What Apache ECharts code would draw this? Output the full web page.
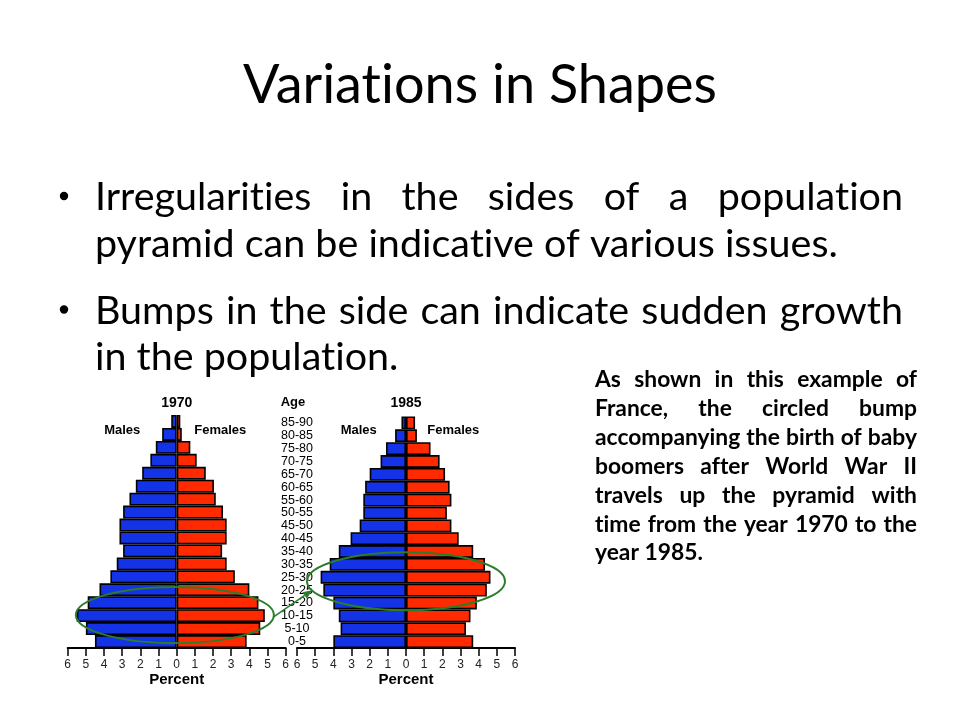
<!DOCTYPE html>
<html><head><meta charset="utf-8">
<script src="https://cdn.jsdelivr.net/npm/echarts@6/dist/echarts.min.js"></script>
<style>html,body{margin:0;padding:0;background:#fff}#c{width:960px;height:720px}</style>
</head><body><div id="c"></div>
<script>
// ---- data (bottom row first) ----
const ages = ['0-5','5-10','10-15','15-20','20-25','25-30','30-35','35-40','40-45','45-50','50-55','55-60','60-65','65-70','70-75','75-80','80-85','85-90'];
const male1970   = [4.5, 5.0, 5.5, 4.9, 4.25, 3.65, 3.3, 2.95, 3.15, 3.15, 2.95, 2.6, 2.25, 1.9, 1.45, 1.15, 0.8, 0.3];
const female1970 = [3.85, 4.6, 4.85, 4.5, 4.0, 3.2, 2.75, 2.5, 2.75, 2.75, 2.55, 2.15, 2.05, 1.6, 1.1, 0.75, 0.28, 0.2];
const male1985   = [4.0, 3.6, 3.7, 4.0, 4.55, 4.7, 4.2, 3.7, 3.05, 2.55, 2.35, 2.35, 2.25, 2.0, 1.4, 1.1, 0.6, 0.25];
const female1985 = [3.7, 3.3, 3.55, 3.9, 4.45, 4.65, 4.35, 3.7, 2.9, 2.5, 2.25, 2.5, 2.4, 2.15, 1.85, 1.35, 0.6, 0.5];
const years = ['1970', '1985'];
const titleText = 'Variations in Shapes';
const bullet1 = ['Irregularities in the sides of a population', 'pyramid can be indicative of various issues.'];
const bullet2 = ['Bumps in the side can indicate sudden growth', 'in the population.'];
const noteLines = ['As shown in this example of', 'France, the circled bump', 'accompanying the birth of baby', 'boomers after World War II', 'travels up the pyramid with', 'time from the year 1970 to the', 'year 1985.'];

const BLUE = '#1432E6', RED = '#FF2A00', GREEN = '#2B7D2B';
const AX = 'Liberation Sans';
const SLIDE = 'Lato';

// turn off optional ligatures (e.g. "ti") in canvas text drawing and measuring
(function () {
  const P = CanvasRenderingContext2D.prototype;
  ['fillText', 'strokeText', 'measureText'].forEach(function (k) {
    const orig = P[k];
    P[k] = function () { try { this.textRendering = 'optimizeSpeed'; } catch (e) {} return orig.apply(this, arguments); };
  });
})();

const mctx = document.createElement('canvas').getContext('2d');
function tw(t, font) { mctx.font = font; return mctx.measureText(t).width; }
function fitSize(t, weight, family, target) {
  const f = weight + ' 100px "' + family + '"';
  return 100 * target / tw(t, f);
}
function txt(x, y, text, font, align, color) {
  return { type: 'text', x: x, y: y, silent: true, z: 10,
    style: { text: text, font: font, fill: color || '#000', align: align || 'left', textAlign: align || 'left', verticalAlign: 'middle', textVerticalAlign: 'middle' } };
}
function lineEls(line, font, x0, x1, y, justify) {
  const words = line.split(' ');
  if (!justify || words.length < 2) return [txt(x0, y, line, font, 'left')];
  const ws = words.map(w => tw(w, font));
  const total = ws.reduce((a, b) => a + b, 0);
  const gap = (x1 - x0 - total) / (words.length - 1);
  const out = []; let x = x0;
  words.forEach((w, i) => { out.push(txt(x, y, w, font, 'left')); x += ws[i] + gap; });
  return out;
}

const chart = echarts.init(document.getElementById('c'), null, { renderer: 'canvas' });

function xAxisOf(gi) {
  return { gridIndex: gi, type: 'value', min: -6, max: 6, interval: 1,
    axisLine: { show: true, lineStyle: { color: '#000', width: 2 } },
    axisTick: { show: true, length: 8, lineStyle: { color: '#000', width: 1.5 } },
    axisLabel: { formatter: v => Math.abs(v), color: '#222', fontSize: 12, fontFamily: AX, margin: 11, showMinLabel: true, showMaxLabel: true },
    splitLine: { show: false },
    name: 'Percent', nameLocation: 'middle', nameGap: 24,
    nameTextStyle: { fontFamily: AX, fontWeight: 'bold', fontSize: 15, color: '#000' } };
}
function barSeries(gi, data, color, neg) {
  return { type: 'bar', xAxisIndex: gi, yAxisIndex: gi, data: data.map(v => neg ? -v : v),
    barGap: '-100%', barCategoryGap: '0%', silent: true,
    itemStyle: { color: color, borderColor: '#000', borderWidth: 1.6 } };
}

chart.setOption({
  animation: false,
  backgroundColor: '#fff',
  grid: [
    { left: 67.7, top: 415, width: 218, height: 233 },
    { left: 297, top: 416.5, width: 218, height: 231.5 }
  ],
  xAxis: [xAxisOf(0), xAxisOf(1)],
  yAxis: [
    { gridIndex: 0, type: 'category', data: ages, show: false },
    { gridIndex: 1, type: 'category', data: ages,
      axisLine: { show: false }, axisTick: { show: false }, splitLine: { show: false },
      axisLabel: { interval: 0, align: 'center', margin: 0, fontSize: 12.5, fontFamily: AX, color: '#000' } }
  ],
  series: [
    barSeries(0, male1970, BLUE, true),
    barSeries(0, female1970, RED, false),
    barSeries(1, male1985, BLUE, true),
    barSeries(1, female1985, RED, false)
  ]
});

// ---- annotations & slide text ----
function px(gi, v) { return chart.convertToPixel({ gridIndex: gi }, [v, 0])[0]; }
function py(gi, idx) {
  const p0 = chart.convertToPixel({ gridIndex: gi }, [0, 0])[1];
  const p1 = chart.convertToPixel({ gridIndex: gi }, [0, 1])[1];
  return p0 + (p1 - p0) * idx;
}
const unit0 = px(0, 1) - px(0, 0), unit1 = px(1, 1) - px(1, 0);
const row0 = py(0, 0) - py(0, 1), row1 = py(1, 0) - py(1, 1);
const e1 = { cx: px(0, -0.1), cy: py(0, 2.05), rx: 5.45 * unit0, ry: 2.17 * row0 };
const e2 = { cx: px(1, 0), cy: py(1, 4.69), rx: 5.45 * unit1, ry: 2.25 * row1 };

const a1 = 0.07, a2 = Math.PI - 0.32;
const sx = e1.cx + e1.rx * Math.cos(a1), sy = e1.cy + e1.ry * Math.sin(a1);
const ex = e2.cx + e2.rx * Math.cos(a2), ey = e2.cy + e2.ry * Math.sin(a2);
const ang = Math.atan2(ey - sy, ex - sx), hl = 9, hw = 4;
const bx = ex - hl * Math.cos(ang), by = ey - hl * Math.sin(ang);
const head = [[ex, ey], [bx - hw * Math.sin(ang), by + hw * Math.cos(ang)], [bx + hw * Math.sin(ang), by - hw * Math.cos(ang)]];

const g = [];
g.push({ type: 'ellipse', silent: true, z: 20, shape: e1, style: { fill: 'none', stroke: GREEN, lineWidth: 2 } });
g.push({ type: 'ellipse', silent: true, z: 20, shape: e2, style: { fill: 'none', stroke: GREEN, lineWidth: 2 } });
g.push({ type: 'line', silent: true, z: 20, shape: { x1: sx, y1: sy, x2: bx, y2: by }, style: { stroke: GREEN, lineWidth: 1.5 } });
g.push({ type: 'polygon', silent: true, z: 20, shape: { points: head }, style: { fill: GREEN } });

// pyramid labels
const lblFont = 'bold 13px "' + AX + '"';
g.push(txt(px(0, 0), 403, years[0], 'bold 14px "' + AX + '"', 'center'));
g.push(txt(px(1, 0), 403, years[1], 'bold 14px "' + AX + '"', 'center'));
g.push(txt(297 - 4, 402, 'Age', lblFont, 'center'));
g.push(txt(px(0, -3), 430, 'Males', lblFont, 'center'));
g.push(txt(px(0, 2.4), 430, 'Females', lblFont, 'center'));
g.push(txt(px(1, -2.6), 430, 'Males', lblFont, 'center'));
g.push(txt(px(1, 2.6), 430, 'Females', lblFont, 'center'));

// title
const tSize = fitSize(titleText, 'normal', SLIDE, 474);
g.push(txt(480, 86, titleText, tSize.toFixed(2) + 'px "' + SLIDE + '"', 'center'));

// bullets
const bSize = fitSize(bullet1[1], 'normal', SLIDE, 743);
const bFont = bSize.toFixed(2) + 'px "' + SLIDE + '"';
const bL = 95, bR = 903;
const bY = [[197.5, 244.5], [311, 357.5]];
[bullet1, bullet2].forEach((lines, bi) => {
  g.push({ type: 'circle', silent: true, shape: { cx: 64, cy: bY[bi][0] - 1.5, r: 4.2 }, style: { fill: '#000' } });
  lines.forEach((ln, li) => { lineEls(ln, bFont, bL, bR, bY[bi][li], li < lines.length - 1).forEach(e => g.push(e)); });
});

// note box
const nSize = fitSize(noteLines[2], 'bold', SLIDE, 320);
const nFont = 'bold ' + nSize.toFixed(2) + 'px "' + SLIDE + '"';
noteLines.forEach((ln, i) => {
  lineEls(ln, nFont, 595, 917, 380 + 28.85 * i, i < noteLines.length - 1).forEach(e => g.push(e));
});

chart.setOption({ graphic: g });
</script></body></html>
